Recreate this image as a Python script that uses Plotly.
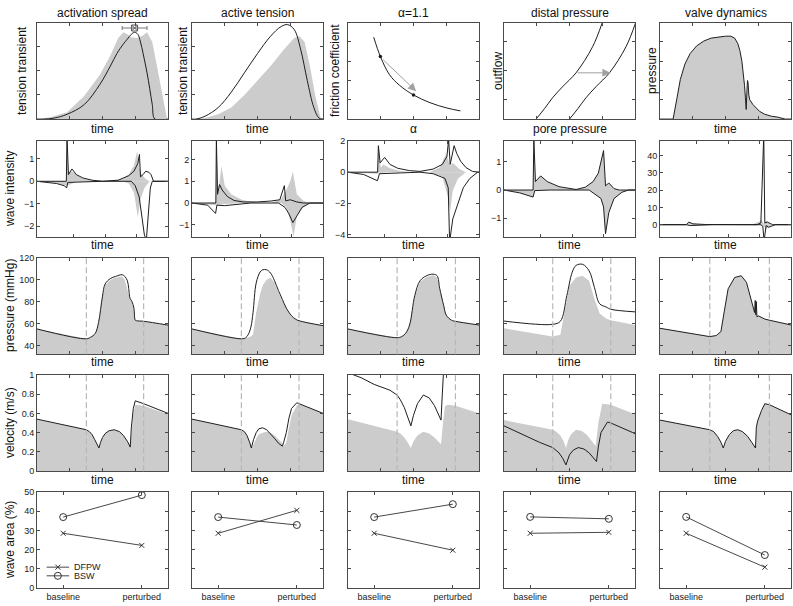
import plotly.graph_objects as go

# ---------------- data ----------------
col_titles = ["activation spread", "active tension", "\u03b1=1.1", "distal pressure", "valve dynamics"]
conditions = ["baseline", "perturbed"]
series_names = ["DFPW", "BSW"]

# Row 1 : mechanism panels
as_gray_t = [0, 0.1, 0.23, 0.36, 0.48, 0.56, 0.62, 0.66, 0.69, 0.72, 0.76, 0.80, 0.84, 0.88, 0.92, 0.95, 0.97, 0.99, 1.0]
as_gray_y = [0, 0.02, 0.07, 0.24, 0.46, 0.66, 0.84, 0.90, 0.88, 0.85, 0.84, 0.86, 0.90, 0.80, 0.52, 0.30, 0.14, 0.02, 0]
as_black_t = [0, 0.05, 0.13, 0.23, 0.36, 0.48, 0.56, 0.61, 0.66, 0.69, 0.72, 0.745, 0.77, 0.79, 0.81, 0.84, 0.86, 0.88, 0.90, 1.0]
as_black_y = [0, 0, 0.01, 0.05, 0.15, 0.36, 0.55, 0.68, 0.78, 0.83, 0.88, 0.90, 0.88, 0.80, 0.68, 0.48, 0.32, 0.15, 0, 0]
as_peak_t = [0.745]
as_peak_y = [0.945]
as_peak_spread = [0.095]

at_gray_t = [0, 0.03, 0.1, 0.2, 0.3, 0.4, 0.5, 0.6, 0.7, 0.78, 0.82, 0.86, 0.9, 0.94, 0.98, 1.0]
at_gray_y = [0, 0, 0.01, 0.05, 0.12, 0.25, 0.40, 0.55, 0.72, 0.84, 0.86, 0.80, 0.55, 0.25, 0.02, 0]
at_black_t = [0, 0.03, 0.1, 0.2, 0.3, 0.4, 0.5, 0.6, 0.68, 0.73, 0.78, 0.83, 0.88, 0.93, 0.97, 1.0]
at_black_y = [0, 0, 0.03, 0.12, 0.28, 0.48, 0.68, 0.86, 0.96, 0.98, 0.93, 0.72, 0.40, 0.12, 0.01, 0]

fr_alpha = [0.196, 0.247, 0.317, 0.394, 0.50, 0.626, 0.755, 0.858]
fr_coef = [0.85, 0.65, 0.46, 0.35, 0.25, 0.17, 0.115, 0.085]
fr_dot_alpha = [0.247, 0.50]
fr_dot_coef = [0.65, 0.25]

dp_left_p = [0.245, 0.31, 0.37, 0.45, 0.55, 0.676, 0.75]
dp_left_q = [0, 0.11, 0.22, 0.34, 0.48, 0.75, 1.0]
dp_right_p = [0.50, 0.565, 0.625, 0.705, 0.805, 0.931, 1.005]
dp_right_q = [0, 0.11, 0.22, 0.34, 0.48, 0.75, 1.0]

vd_t = [0, 0.10, 0.13, 0.155, 0.19, 0.23, 0.28, 0.335, 0.39, 0.44, 0.50, 0.54, 0.57, 0.595, 0.61, 0.625,
        0.635, 0.645, 0.652, 0.658, 0.664, 0.668, 0.672, 0.678, 0.685, 0.71, 0.76, 0.80, 0.85, 0.90, 0.955, 1.0]
vd_p = [0, 0, 0.22, 0.41, 0.57, 0.68, 0.76, 0.81, 0.84, 0.85, 0.86, 0.86, 0.84, 0.78, 0.71, 0.60,
        0.50, 0.35, 0.22, 0.10, 0.30, 0.40, 0.38, 0.25, 0.20, 0.15, 0.08, 0.05, 0.03, 0.02, 0, 0]

# Row 2 : wave intensity (black = perturbed, gray = baseline)
wi_as_bp_t = [0, 0.224, 0.229, 0.24, 0.267, 0.30, 0.35, 0.42, 0.50, 0.62, 0.70, 0.74, 0.77, 0.782, 0.79, 0.81, 0.83, 0.855, 0.87, 0.89, 1.0]
wi_as_bp_y = [0, 0, 2.0, 0.3, 0.55, 0.3, 0.15, 0.05, 0, 0.05, 0.25, 0.45, 0.8, 1.2, 0.2, 0.3, 0.45, 0.4, 0.3, 0, 0]
wi_as_bn_t = [0, 0.15, 0.21, 0.226, 0.235, 0.35, 0.50, 0.72, 0.75, 0.78, 0.80, 0.82, 0.835, 0.85, 0.865, 0.88, 1.0]
wi_as_bn_y = [0, -0.1, -0.2, -0.3, -0.05, -0.03, 0, 0, -0.2, -0.7, -1.5, -2.4, -2.6, -1.5, -0.3, 0, 0]
wi_as_gp_t = [0, 0.224, 0.229, 0.24, 0.265, 0.30, 0.35, 0.42, 0.50, 0.55, 0.65, 0.70, 0.74, 0.765, 0.78, 0.80, 0.83, 0.86, 1.0]
wi_as_gp_y = [0, 0, 1.8, 0.4, 0.45, 0.3, 0.12, 0.03, 0, 0, 0.1, 0.3, 0.7, 1.35, 0.6, 0.3, 0.1, 0, 0]
wi_as_gn_t = [0, 0.15, 0.226, 0.30, 0.50, 0.65, 0.70, 0.74, 0.77, 0.79, 0.82, 0.86, 1.0]
wi_as_gn_y = [0, -0.08, -0.2, -0.03, 0, 0, -0.1, -0.5, -1.6, -0.8, -0.3, 0, 0]

wi_at_bp_t = [0, 0.182, 0.186, 0.195, 0.21, 0.23, 0.27, 0.32, 0.39, 0.45, 0.50, 0.60, 0.67, 0.705, 0.715, 0.75, 0.80, 0.85, 1.0]
wi_at_bp_y = [0, 0, 3.0, 0.4, 0.85, 0.6, 0.3, 0.12, 0.05, 0.04, 0.05, 0.09, 0.15, 0.8, 0.1, 0.15, 0.05, 0, 0]
wi_at_bn_t = [0, 0.12, 0.18, 0.19, 0.25, 0.35, 0.45, 0.66, 0.71, 0.74, 0.77, 0.80, 0.84, 0.90, 1.0]
wi_at_bn_y = [0, -0.1, -0.48, -0.1, -0.12, -0.05, 0, 0, -0.2, -0.5, -0.9, -0.6, -0.2, 0, 0]
wi_at_gp_t = [0, 0.182, 0.187, 0.20, 0.225, 0.25, 0.30, 0.38, 0.47, 0.55, 0.60, 0.68, 0.72, 0.75, 0.77, 0.80, 0.85, 0.90, 1.0]
wi_at_gp_y = [0, 0, 2.9, 0.5, 1.7, 0.8, 0.4, 0.15, 0.03, 0, 0, 0.2, 0.6, 1.0, 1.45, 0.4, 0.1, 0, 0]
wi_at_gn_t = [0, 0.18, 0.25, 0.40, 0.68, 0.72, 0.75, 0.775, 0.80, 0.85, 0.90, 1.0]
wi_at_gn_y = [0, -0.1, -0.05, 0, 0, -0.2, -0.8, -1.55, -0.6, -0.2, 0, 0]

wi_al_bp_t = [0, 0.226, 0.232, 0.245, 0.28, 0.32, 0.38, 0.47, 0.55, 0.65, 0.72, 0.755, 0.768, 0.78, 0.81, 0.83, 0.86, 0.90, 0.95, 0.99, 1.0]
wi_al_bp_y = [0, 0, 1.7, 0.6, 0.95, 0.5, 0.25, 0.1, 0.05, 0.2, 0.5, 1.0, 2.1, 0.5, 1.7, 1.2, 0.7, 0.3, 0.05, 0, 0]
wi_al_bn_t = [0, 0.12, 0.225, 0.24, 0.40, 0.55, 0.65, 0.74, 0.765, 0.775, 0.78, 0.80, 0.84, 0.88, 0.93, 0.99, 1.0]
wi_al_bn_y = [0, -0.15, -0.55, -0.1, -0.05, 0, -0.1, -0.4, -1.0, -4.3, -4.2, -3.0, -2.0, -1.0, -0.4, 0, 0]
wi_al_gp_t = [0, 0.226, 0.232, 0.25, 0.27, 0.32, 0.40, 0.50, 0.62, 0.70, 0.75, 0.78, 0.80, 0.85, 0.90, 1.0]
wi_al_gp_y = [0, 0, 1.6, 0.3, 0.5, 0.25, 0.08, 0, 0, 0.3, 1.2, 0.4, 0.6, 0.2, 0, 0]
wi_al_gn_t = [0, 0.22, 0.30, 0.62, 0.72, 0.76, 0.78, 0.80, 0.84, 0.90, 1.0]
wi_al_gn_y = [0, -0.1, 0, 0, -0.3, -1.5, -2.5, -1.2, -0.4, 0, 0]

wi_dp_bp_t = [0, 0.222, 0.228, 0.24, 0.28, 0.33, 0.42, 0.55, 0.62, 0.68, 0.72, 0.76, 0.775, 0.80, 0.84, 0.88, 1.0]
wi_dp_bp_y = [0, 0, 1.8, 0.3, 0.5, 0.3, 0.12, 0.02, 0.1, 0.3, 0.6, 1.4, 0.15, 0.25, 0.05, 0, 0]
wi_dp_bn_t = [0, 0.12, 0.222, 0.235, 0.35, 0.65, 0.74, 0.76, 0.775, 0.80, 0.84, 0.90, 0.95, 1.0]
wi_dp_bn_y = [0, -0.1, -0.25, -0.02, 0, 0, -0.3, -0.6, -1.55, -0.8, -0.3, -0.08, 0, 0]

wi_vd_bp_t = [0, 0.20, 0.22, 0.25, 0.35, 0.50, 0.74, 0.77, 0.788, 0.792, 0.80, 0.82, 0.86, 1.0]
wi_vd_bp_y = [0, 0, 1.5, 0.5, 0.1, 0, 0, 1.0, 52, 52, 1.0, 1.5, 0, 0]
wi_vd_bn_t = [0, 0.20, 0.23, 0.30, 0.40, 0.77, 0.785, 0.793, 0.797, 0.81, 0.83, 0.88, 1.0]
wi_vd_bn_y = [0, 0, -0.5, -0.2, 0, 0, -1.0, -8.0, -8.0, -0.5, -1.5, 0, 0]
wi_vd_gp_t = [0, 0.20, 0.22, 0.30, 0.70, 0.76, 0.775, 0.79, 0.81, 0.85, 1.0]
wi_vd_gp_y = [0, 0, 1.5, 0, 0, 2.0, 3.0, 0.5, 2.5, 0, 0]
wi_vd_gn_t = [0, 0.20, 0.23, 0.30, 0.76, 0.80, 0.81, 0.86, 1.0]
wi_vd_gn_y = [0, 0, -0.3, 0, 0, -1.5, -2.5, 0, 0]

# Row 3 : pressure (mmHg)
pr_as_t = [0, 0.377, 0.41, 0.445, 0.47, 0.50, 0.52, 0.56, 0.60, 0.65, 0.67, 0.69, 0.70, 0.71, 0.725, 0.74, 0.75, 0.76, 0.814, 1.0]
pr_as_black = [55, 46, 47.5, 51, 61, 85, 96, 101, 103, 104.5, 103, 99, 92, 83, 80, 74, 63, 62.5, 62, 58.5]
pr_as_gray = [55, 46, 47.5, 51, 61, 85, 95, 100, 102, 103, 100, 92, 87, 82, 79, 73, 63, 62.5, 62, 58.5]

pr_at_t = [0, 0.377, 0.41, 0.43, 0.45, 0.466, 0.49, 0.52, 0.54, 0.57, 0.60, 0.63, 0.66, 0.69, 0.72, 0.76, 0.79, 0.817, 1.0]
pr_at_black = [55, 46, 47, 50, 57, 70, 97, 107, 109, 109, 106, 99, 90, 82, 74, 67, 64, 62.5, 58]
pr_at_gray = [55, 46, 46.5, 47, 48, 50, 70, 87, 95, 100, 102, 97, 88, 81, 74, 67, 64, 62.5, 58]

pr_al_t = [0, 0.375, 0.41, 0.44, 0.47, 0.51, 0.55, 0.60, 0.65, 0.68, 0.70, 0.73, 0.75, 0.79, 0.82, 1.0]
pr_al_black = [55, 47, 48, 51, 58.6, 85.6, 99, 103.6, 105, 103.6, 92, 76.6, 67.6, 63, 62, 58.6]
pr_al_gray = [55, 47, 48, 51, 58.6, 85, 98, 102.5, 104, 102, 91, 76, 67.6, 63, 62, 58.6]

pr_dp_bt = [0, 0.37, 0.43, 0.48, 0.52, 0.55, 0.60, 0.65, 0.69, 0.73, 0.78, 0.815, 1.0]
pr_dp_black = [62.2, 59.2, 62, 85.6, 106.5, 113, 114, 108, 93, 78, 75, 73, 70.6]
pr_dp_gt = [0, 0.37, 0.43, 0.46, 0.50, 0.55, 0.60, 0.65, 0.69, 0.73, 0.78, 0.815, 1.0]
pr_dp_gray = [55.6, 48, 49.6, 70.6, 94.6, 102, 103.6, 99, 82.6, 69, 64.5, 63, 58.6]

pr_vd_t = [0, 0.38, 0.43, 0.465, 0.49, 0.52, 0.57, 0.62, 0.66, 0.685, 0.71, 0.722, 0.727, 0.731, 0.735, 0.74, 0.75, 0.80, 0.835, 1.0]
pr_vd_black = [55.6, 48, 49, 52.6, 70.6, 91.6, 102, 103.6, 97.6, 85.6, 73.6, 70, 81, 68, 80, 66, 67, 64, 63, 58.6]
pr_vd_gray = [55.6, 48, 49, 52.6, 70.6, 91.6, 102, 103.6, 97.6, 85.6, 73.6, 70, 72, 68, 70, 66, 67, 64, 63, 58.6]

# Row 4 : velocity (m/s)
v_as_t = [0, 0.377, 0.40, 0.42, 0.44, 0.455, 0.473, 0.485, 0.50, 0.52, 0.55, 0.59, 0.63, 0.66, 0.69, 0.712, 0.72, 0.735, 0.75, 0.814, 1.0]
v_as_black = [0.54, 0.43, 0.41, 0.38, 0.33, 0.29, 0.24, 0.30, 0.35, 0.39, 0.42, 0.43, 0.41, 0.37, 0.31, 0.25, 0.45, 0.65, 0.73, 0.70, 0.60]
v_as_gray = [0.54, 0.43, 0.41, 0.38, 0.33, 0.29, 0.24, 0.30, 0.35, 0.39, 0.42, 0.43, 0.41, 0.37, 0.31, 0.25, 0.40, 0.60, 0.69, 0.68, 0.59]

v_at_t = [0, 0.377, 0.40, 0.42, 0.44, 0.453, 0.47, 0.49, 0.51, 0.54, 0.57, 0.60, 0.63, 0.66, 0.69, 0.70, 0.72, 0.74, 0.76, 0.80, 0.817, 1.0]
v_at_black = [0.54, 0.43, 0.41, 0.37, 0.30, 0.24, 0.33, 0.40, 0.44, 0.45, 0.43, 0.39, 0.34, 0.29, 0.26, 0.30, 0.40, 0.55, 0.65, 0.71, 0.70, 0.60]
v_at_gray = [0.54, 0.43, 0.41, 0.37, 0.30, 0.24, 0.28, 0.34, 0.38, 0.40, 0.41, 0.40, 0.37, 0.33, 0.29, 0.26, 0.30, 0.45, 0.58, 0.68, 0.70, 0.60]

v_al_bt = [0.04, 0.10, 0.20, 0.32, 0.375, 0.40, 0.43, 0.455, 0.48, 0.50, 0.53, 0.575, 0.62, 0.66, 0.69, 0.71, 0.72, 0.73]
v_al_black = [1.0, 0.97, 0.90, 0.84, 0.79, 0.74, 0.66, 0.57, 0.47, 0.58, 0.70, 0.79, 0.76, 0.68, 0.60, 0.53, 0.80, 1.05]
v_al_gt = [0, 0.32, 0.375, 0.40, 0.43, 0.455, 0.48, 0.50, 0.53, 0.575, 0.62, 0.66, 0.69, 0.71, 0.725, 0.74, 0.76, 0.82, 1.0]
v_al_gray = [0.54, 0.43, 0.41, 0.39, 0.35, 0.30, 0.24, 0.31, 0.37, 0.41, 0.39, 0.35, 0.31, 0.28, 0.50, 0.67, 0.69, 0.68, 0.60]

v_dp_bt = [0, 0.144, 0.27, 0.372, 0.42, 0.45, 0.473, 0.50, 0.53, 0.567, 0.61, 0.65, 0.685, 0.706, 0.72, 0.74, 0.79, 0.815, 1.0]
v_dp_black = [0.47, 0.38, 0.30, 0.245, 0.19, 0.13, 0.065, 0.17, 0.22, 0.245, 0.23, 0.19, 0.14, 0.10, 0.25, 0.40, 0.51, 0.50, 0.39]
v_dp_gt = [0, 0.372, 0.40, 0.43, 0.455, 0.473, 0.49, 0.51, 0.55, 0.59, 0.63, 0.66, 0.70, 0.72, 0.75, 0.815, 1.0]
v_dp_gray = [0.53, 0.43, 0.41, 0.37, 0.31, 0.24, 0.32, 0.38, 0.43, 0.42, 0.38, 0.33, 0.26, 0.50, 0.70, 0.69, 0.59]

v_vd_t = [0, 0.38, 0.41, 0.44, 0.465, 0.483, 0.50, 0.53, 0.56, 0.594, 0.63, 0.67, 0.70, 0.729, 0.735, 0.745, 0.775, 0.80, 0.835, 1.0]
v_vd_black = [0.53, 0.43, 0.41, 0.36, 0.30, 0.24, 0.31, 0.38, 0.42, 0.43, 0.41, 0.36, 0.30, 0.24, 0.45, 0.52, 0.63, 0.70, 0.69, 0.585]
v_vd_gray = [0.53, 0.43, 0.41, 0.36, 0.30, 0.24, 0.31, 0.38, 0.42, 0.43, 0.41, 0.36, 0.30, 0.24, 0.45, 0.52, 0.63, 0.70, 0.69, 0.585]

# dashed valve-timing markers (open, close) per column
valve_open = [0.377, 0.377, 0.375, 0.372, 0.38]
valve_close = [0.814, 0.817, 0.82, 0.815, 0.835]

# Row 5 : wave area (%)
dfpw_area = [[28.5, 22.2], [28.5, 40.4], [28.5, 19.7], [28.5, 29.0], [28.5, 10.9]]
bsw_area = [[36.9, 48.3], [36.9, 32.8], [36.9, 43.6], [37.0, 36.0], [37.0, 17.2]]

# ---------------- figure ----------------
W, H = 793, 606
COL_LEFT = [37, 192, 348, 504, 660]
COL_W = 131
ROW_TOP = [18, 138, 257, 376, 495]
ROW_H = 98

GRAY = "#cccccc"
BLACK = "#1e1e1e"
FRAME = "#4a4a4a"
FONT = "Liberation Sans, Arial, sans-serif"

fig = go.Figure()


def ids(r, c):
    k = r * 5 + c + 1
    s = "" if k == 1 else str(k)
    return "x" + s, "y" + s, "xaxis" + s, "yaxis" + s


def add_fill(r, c, t, y):
    xr, yr, _, _ = ids(r, c)
    fig.add_trace(go.Scatter(x=t, y=y, xaxis=xr, yaxis=yr, mode="lines", fill="tozeroy",
                             fillcolor=GRAY, line=dict(width=0, color=GRAY),
                             hoverinfo="skip", showlegend=False))


def add_line(r, c, t, y, color=BLACK, width=1.0, shape="linear"):
    xr, yr, _, _ = ids(r, c)
    fig.add_trace(go.Scatter(x=t, y=y, xaxis=xr, yaxis=yr, mode="lines",
                             line=dict(width=width, color=color, shape=shape),
                             hoverinfo="skip", showlegend=False))


def setup(r, c, xrange, yrange, xtickvals=None, ytickvals=None, showx=False, showy=False, xcat=False):
    xr, yr, xk, yk = ids(r, c)
    x0 = COL_LEFT[c] / W
    x1 = (COL_LEFT[c] + COL_W) / W
    y1 = 1 - ROW_TOP[r] / H
    y0 = 1 - (ROW_TOP[r] + ROW_H) / H
    common = dict(showline=True, linecolor=FRAME, linewidth=1, mirror="ticks", ticks="inside",
                  ticklen=3, tickcolor=FRAME, tickwidth=1, showgrid=False, zeroline=False,
                  tickfont=dict(size=9, color="#222", family=FONT), fixedrange=True)
    xa = dict(domain=[x0, x1], anchor=yr, range=xrange, showticklabels=showx, **common)
    if xcat:
        xa["type"] = "category"
    else:
        xa["tickvals"] = xtickvals
    ya = dict(domain=[y0, y1], anchor=xr, range=yrange, tickvals=ytickvals, showticklabels=showy, **common)
    fig.update_layout(**{xk: xa, yk: ya})


# ---- Row 1
add_fill(0, 0, as_gray_t, as_gray_y)
add_line(0, 0, as_black_t, as_black_y, shape="spline")
fig.add_trace(go.Scatter(x=as_peak_t, y=as_peak_y, xaxis="x", yaxis="y", mode="markers",
                         marker=dict(symbol="square-x-open", size=6, color="#555", line=dict(width=1, color="#555")),
                         error_x=dict(type="data", array=as_peak_spread, color="#777", thickness=1, width=2),
                         hoverinfo="skip", showlegend=False))
setup(0, 0, [0, 1], [0, 1], [0.25, 0.5, 0.75], [0.25, 0.5, 0.75])

add_fill(0, 1, at_gray_t, at_gray_y)
add_line(0, 1, at_black_t, at_black_y, shape="spline")
setup(0, 1, [0, 1], [0, 1], [0.25, 0.5, 0.75], [0.25, 0.5, 0.75])

add_line(0, 2, fr_alpha, fr_coef, shape="spline")
xr, yr, _, _ = ids(0, 2)
fig.add_trace(go.Scatter(x=fr_dot_alpha, y=fr_dot_coef, xaxis=xr, yaxis=yr, mode="markers",
                         marker=dict(size=3.5, color=BLACK), hoverinfo="skip", showlegend=False))
fig.add_annotation(x=fr_dot_alpha[1] + 0.02, y=fr_dot_coef[1] + 0.04, ax=fr_dot_alpha[0] + 0.01, ay=fr_dot_coef[0] - 0.02,
                   xref=xr, yref=yr, axref=xr, ayref=yr, showarrow=True, arrowhead=2, arrowsize=1.6,
                   arrowwidth=1, arrowcolor="#a0a0a0", text="")
setup(0, 2, [0, 1], [0, 1], [0.25, 0.5, 0.75], [0.2, 0.4, 0.6, 0.8])

add_line(0, 3, dp_left_p, dp_left_q, shape="spline")
add_line(0, 3, dp_right_p, dp_right_q, shape="spline")
xr, yr, _, _ = ids(0, 3)
fig.add_annotation(x=0.812, y=0.48, ax=0.55, ay=0.48, xref=xr, yref=yr, axref=xr, ayref=yr,
                   showarrow=True, arrowhead=2, arrowsize=1.6, arrowwidth=1, arrowcolor="#a0a0a0", text="")
setup(0, 3, [0, 1], [0, 1], [0.25, 0.5, 0.75], [0.2, 0.5, 0.8])

add_fill(0, 4, vd_t, vd_p)
add_line(0, 4, vd_t, vd_p)
setup(0, 4, [0, 1], [0, 1], [0.25, 0.5, 0.75], [0.2, 0.4, 0.6, 0.8])

# ---- Row 2 : wave intensity
wi_sets = [
    (wi_as_gp_t, wi_as_gp_y, wi_as_gn_t, wi_as_gn_y, wi_as_bp_t, wi_as_bp_y, wi_as_bn_t, wi_as_bn_y, [-2.49, 1.81], [-2, -1, 0, 1]),
    (wi_at_gp_t, wi_at_gp_y, wi_at_gn_t, wi_at_gn_y, wi_at_bp_t, wi_at_bp_y, wi_at_bn_t, wi_at_bn_y, [-1.57, 2.87], [-1, 0, 1, 2]),
    (wi_al_gp_t, wi_al_gp_y, wi_al_gn_t, wi_al_gn_y, wi_al_bp_t, wi_al_bp_y, wi_al_bn_t, wi_al_bn_y, [-4.17, 2.02], [-4, -2, 0, 2]),
    (wi_dp_bp_t, wi_dp_bp_y, wi_dp_bn_t, wi_dp_bn_y, wi_dp_bp_t, wi_dp_bp_y, wi_dp_bn_t, wi_dp_bn_y, [-1.67, 1.75], [-1, 0, 1]),
    (wi_vd_gp_t, wi_vd_gp_y, wi_vd_gn_t, wi_vd_gn_y, wi_vd_bp_t, wi_vd_bp_y, wi_vd_bn_t, wi_vd_bn_y, [-7.2, 48.7], [0, 10, 20, 30, 40]),
]
for c, (gpt, gpy, gnt, gny, bpt, bpy, bnt, bny, yrng, yt) in enumerate(wi_sets):
    add_fill(1, c, gpt, gpy)
    add_fill(1, c, gnt, gny)
    add_line(1, c, bpt, bpy)
    add_line(1, c, bnt, bny)
    setup(1, c, [0, 1], yrng, [0.28, 0.52, 0.76], yt, showy=True)

# ---- Row 3 : pressure
pr_sets = [
    (pr_as_t, pr_as_gray, pr_as_t, pr_as_black),
    (pr_at_t, pr_at_gray, pr_at_t, pr_at_black),
    (pr_al_t, pr_al_gray, pr_al_t, pr_al_black),
    (pr_dp_gt, pr_dp_gray, pr_dp_bt, pr_dp_black),
    (pr_vd_t, pr_vd_gray, pr_vd_t, pr_vd_black),
]
for c, (gt, gy, bt, by) in enumerate(pr_sets):
    add_fill(2, c, gt, gy)
    add_line(2, c, bt, by, shape="spline" if c != 4 else "linear")
    setup(2, c, [0, 1], [32, 120], [0.25, 0.5, 0.75], [40, 60, 80, 100, 120], showy=(c == 0))

# ---- Row 4 : velocity
v_sets = [
    (v_as_t, v_as_gray, v_as_t, v_as_black),
    (v_at_t, v_at_gray, v_at_t, v_at_black),
    (v_al_gt, v_al_gray, v_al_bt, v_al_black),
    (v_dp_gt, v_dp_gray, v_dp_bt, v_dp_black),
    (v_vd_t, v_vd_gray, v_vd_t, v_vd_black),
]
for c, (gt, gy, bt, by) in enumerate(v_sets):
    add_fill(3, c, gt, gy)
    add_line(3, c, bt, by)
    setup(3, c, [0, 1], [0, 1], [0.25, 0.5, 0.75], [0, 0.2, 0.4, 0.6, 0.8, 1], showy=(c == 0))

# dashed valve timing lines (rows 3 & 4)
for r in (2, 3):
    for c in range(5):
        xr, yr, _, _ = ids(r, c)
        for tv in (valve_open[c], valve_close[c]):
            fig.add_shape(type="line", xref=xr, yref=yr + " domain", x0=tv, x1=tv, y0=0, y1=1,
                          line=dict(color="#b8b8b8", width=1.2, dash="6px,3px"), layer="above")

# ---- Row 5 : wave area
area_sets = [dfpw_area, bsw_area]
marker_syms = ["x-thin-open", "circle-open"]
marker_sizes = [5, 7]
for c in range(5):
    xr, yr, _, _ = ids(4, c)
    for s in range(2):
        fig.add_trace(go.Scatter(x=conditions, y=area_sets[s][c], xaxis=xr, yaxis=yr, mode="lines+markers",
                                 name=series_names[s], showlegend=False,
                                 line=dict(color="#333", width=0.9),
                                 marker=dict(symbol=marker_syms[s], size=marker_sizes[s], color="#333",
                                             line=dict(width=1, color="#333")),
                                 hoverinfo="skip"))
    setup(4, c, [-0.333, 1.333], [0, 50], None, [0, 10, 20, 30, 40, 50], showx=True, showy=(c == 0), xcat=True)

# ---- manual legend (inside wave-area panel of column 1), on a hidden overlay axis
LEG_X0, LEG_X1, LEG_Y0, LEG_Y1 = 44, 110, 566, 586
fig.update_layout(
    xaxis26=dict(domain=[LEG_X0 / W, LEG_X1 / W], range=[0, 1], visible=False, fixedrange=True, anchor="y26"),
    yaxis26=dict(domain=[1 - LEG_Y1 / H, 1 - LEG_Y0 / H], range=[0, 1], visible=False, fixedrange=True, anchor="x26"),
)
leg_rows = [0.72, 0.28]
for s in range(2):
    fig.add_trace(go.Scatter(x=[0.04, 0.38], y=[leg_rows[s], leg_rows[s]], xaxis="x26", yaxis="y26", mode="lines",
                             line=dict(color="#333", width=0.9), hoverinfo="skip", showlegend=False))
    fig.add_trace(go.Scatter(x=[0.21], y=[leg_rows[s]], xaxis="x26", yaxis="y26", mode="markers",
                             marker=dict(symbol=marker_syms[s], size=marker_sizes[s], color="#333",
                                         line=dict(width=1, color="#333")),
                             hoverinfo="skip", showlegend=False))
    fig.add_annotation(x=0.42, y=leg_rows[s], xref="x26", yref="y26", text=series_names[s], showarrow=False,
                       xanchor="left", yanchor="middle", font=dict(size=9, color="#222", family=FONT))

# ---------------- text ----------------
ann = []


def text(px, py, s, size=12, angle=0):
    ann.append(dict(x=px / W, y=1 - py / H, xref="paper", yref="paper", text=s, showarrow=False,
                    xanchor="center", yanchor="middle", textangle=angle,
                    font=dict(size=size, color="#111", family=FONT)))


for c in range(5):
    cx = COL_LEFT[c] + COL_W / 2
    text(cx, 8, col_titles[c])

row1_xlabels = ["time", "time", "\u03b1", "pore pressure", "time"]
for c in range(5):
    cx = COL_LEFT[c] + COL_W / 2
    text(cx, 126, row1_xlabels[c])
    for yy in (244, 363, 483):
        text(cx, yy, "time")

row1_ylabels = ["tension transient", "tension transient", "friction coefficient", "outflow", "pressure"]
row1_ylabel_x = [22, 183, 335, 498, 652]
for c in range(5):
    text(row1_ylabel_x[c], ROW_TOP[0] + ROW_H / 2, row1_ylabels[c], angle=-90)

left_labels = ["wave intensity", "pressure (mmHg)", "velocity (m/s)", "wave area (%)"]
for i, s in enumerate(left_labels):
    text(10, ROW_TOP[i + 1] + ROW_H / 2, s, angle=-90)

fig.update_layout(
    width=W, height=H, margin=dict(l=0, r=0, t=0, b=0),
    paper_bgcolor="white", plot_bgcolor="white",
    annotations=fig.layout.annotations + tuple(ann),
    showlegend=False,
    font=dict(family=FONT),
)

fig.write_html("out.html", config={"displayModeBar": False, "staticPlot": True},
               post_script="document.body.style.margin='0px';")
